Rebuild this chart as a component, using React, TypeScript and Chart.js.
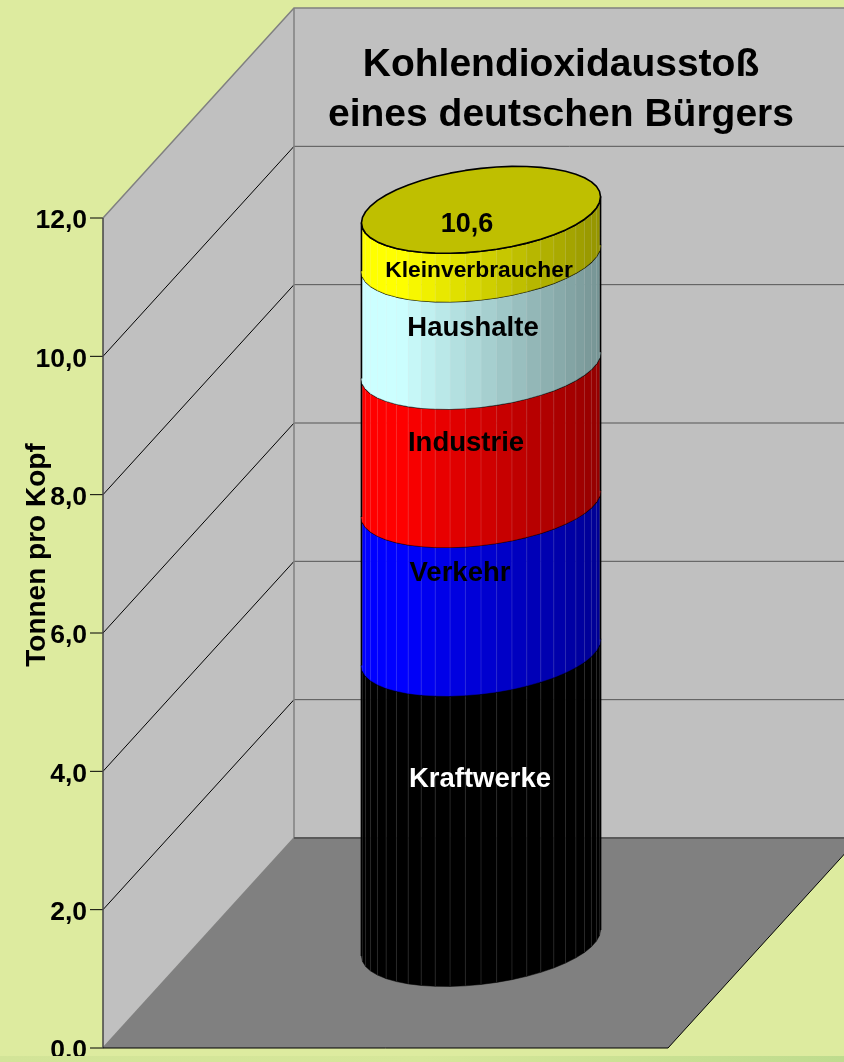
import React, { useEffect, useRef } from "react";
import { Chart, registerables } from "chart.js";

Chart.register(...registerables);

const titleLines = ["Kohlendioxidausstoß", "eines deutschen Bürgers"];
const axisTitle = "Tonnen pro Kopf";
const categories = ["Deutschland"];
const seriesNames = ["Kraftwerke", "Verkehr", "Industrie", "Haushalte", "Kleinverbraucher"];
const seriesValues = [4.2, 2.15, 2.0, 1.55, 0.7];
const totalLabel = "10,6";
const seriesColors = ["#000000", "#0000ff", "#ff0000", "#ccffff", "#ffff00"];
const labelColors = ["#ffffff", "#000000", "#000000", "#000000", "#000000"];

const FONT = '"Liberation Sans", Arial, sans-serif';
const DX = 191, DY = 210, FACETS = 24;
const SKEW_X = 36, SEMI_DEPTH = 43.5;
// label anchor (canvas px) for each hand-placed label in the original
const labelPos: [number, number, number][] = [
  [480, 779, 27.5], [460, 573, 27.5], [466, 443, 27.5], [473, 328, 27.5], [479, 271, 22.8],
];

function shade(hex: string, f: number) {
  const n = parseInt(hex.slice(1), 16);
  const r = Math.round(((n >> 16) & 255) * f), g = Math.round(((n >> 8) & 255) * f), b = Math.round((n & 255) * f);
  return `rgb(${r},${g},${b})`;
}

const scene = {
  id: "scene3d",
  beforeDatasetsDraw(chart: any) {
    const { ctx, scales, chartArea: ca } = chart;
    const y = scales.y;
    const W = chart.width, H = chart.height;
    ctx.save();
    // bottom strip
    const g = ctx.createLinearGradient(0, 0, W, 0);
    g.addColorStop(0, "#d2e498"); g.addColorStop(0.5, "#d6e79a"); g.addColorStop(0.8, "#c8e092"); g.addColorStop(1, "#bedc8e");
    ctx.fillStyle = g;
    ctx.fillRect(0, 1056, W, H - 1056);

    const y0 = y.getPixelForValue(0), yT = y.getPixelForValue(12);
    const L = ca.left, R = ca.right;
    // left wall
    ctx.fillStyle = "#c0c0c0";
    ctx.beginPath();
    ctx.moveTo(L, y0); ctx.lineTo(L + DX, y0 - DY); ctx.lineTo(L + DX, yT - DY); ctx.lineTo(L, yT); ctx.closePath();
    ctx.fill();
    // back wall
    ctx.fillRect(L + DX, yT - DY, R - L + 2, y0 - yT);
    // floor
    ctx.fillStyle = "#808080";
    ctx.beginPath();
    ctx.moveTo(L, y0); ctx.lineTo(R, y0); ctx.lineTo(R + DX, y0 - DY); ctx.lineTo(L + DX, y0 - DY); ctx.closePath();
    ctx.fill();

    // gridlines
    for (const t of y.ticks) {
      const p = y.getPixelForValue(t.value);
      if (t.value > 0 && t.value < 12) {
        ctx.strokeStyle = "#000"; ctx.lineWidth = 1;
        ctx.beginPath(); ctx.moveTo(L, p); ctx.lineTo(L + DX, p - DY); ctx.stroke();
        ctx.strokeStyle = "#555"; ctx.lineWidth = 1;
        ctx.beginPath(); ctx.moveTo(L + DX, p - DY); ctx.lineTo(R + DX, p - DY); ctx.stroke();
      }
      ctx.strokeStyle = "#000"; ctx.lineWidth = 1;
      ctx.beginPath(); ctx.moveTo(L - 13, p); ctx.lineTo(L, p); ctx.stroke();
    }
    // frame edges
    ctx.strokeStyle = "#808080"; ctx.lineWidth = 1.5;
    ctx.beginPath(); ctx.moveTo(L, yT); ctx.lineTo(L + DX, yT - DY); ctx.lineTo(R + DX, yT - DY); ctx.stroke();
    ctx.beginPath(); ctx.moveTo(L + DX, yT - DY); ctx.lineTo(L + DX, y0 - DY); ctx.stroke();
    ctx.beginPath(); ctx.moveTo(L, y0); ctx.lineTo(L + DX, y0 - DY); ctx.stroke();
    ctx.strokeStyle = "#5a5a5a"; ctx.lineWidth = 2;
    ctx.beginPath(); ctx.moveTo(L + DX, y0 - DY); ctx.lineTo(R + DX, y0 - DY); ctx.stroke();
    ctx.strokeStyle = "#444"; ctx.lineWidth = 1.5;
    ctx.beginPath(); ctx.moveTo(L, yT); ctx.lineTo(L, y0); ctx.stroke();
    ctx.strokeStyle = "#000"; ctx.lineWidth = 1;
    ctx.beginPath(); ctx.moveTo(L, y0); ctx.lineTo(R, y0); ctx.lineTo(R + DX, y0 - DY); ctx.stroke();

    // cylinder stack, built from the bar elements' own pixels
    const metas = seriesValues.map((_, i) => chart.getDatasetMeta(i).data[0]);
    metas.forEach((bar: any, i: number) => {
      const cx = bar.x + DX / 2;
      const A = bar.width / 2;
      const B = SKEW_X;
      const D = SEMI_DEPTH;
      const yBot = bar.base - DY / 2, yTop = bar.y - DY / 2;
      const phiR = Math.atan2(B, A);
      const pt = (phi: number, yc: number): [number, number] => [
        cx + A * Math.cos(phi) + B * Math.sin(phi),
        yc - D * Math.sin(phi),
      ];
      const phiAt = (k: number) => phiR + Math.PI + (k / FACETS) * Math.PI;
      // facets
      for (let k = 0; k < FACETS; k++) {
        const a = phiAt(k), b = phiAt(k + 1);
        const p1 = pt(a, yBot), p2 = pt(b, yBot), p3 = pt(b, yTop), p4 = pt(a, yTop);
        const xm = (p1[0] + p2[0]) / 2;
        const f = xm < 400 ? 1 : 1 - ((xm - 400) / 200) * 0.42;
        ctx.fillStyle = shade(seriesColors[i], f);
        ctx.strokeStyle = ctx.fillStyle;
        ctx.lineWidth = 0.5;
        ctx.beginPath();
        ctx.moveTo(...p1); ctx.lineTo(...p2); ctx.lineTo(...p3); ctx.lineTo(...p4); ctx.closePath();
        ctx.fill(); ctx.stroke();
        if (k > 0) {
          ctx.strokeStyle = "rgba(255,255,255,0.13)"; ctx.lineWidth = 1;
          ctx.beginPath(); ctx.moveTo(...p1); ctx.lineTo(...p4); ctx.stroke();
        }
      }
      // outline: upper front arc and both sides
      ctx.strokeStyle = "#000"; ctx.lineWidth = 1.6; ctx.lineJoin = "round";
      ctx.beginPath();
      const s = pt(phiAt(0), yBot);
      ctx.moveTo(s[0], s[1]);
      const tl = pt(phiAt(0), yTop);
      ctx.lineTo(tl[0], tl[1]);
      for (let k = 1; k <= FACETS; k++) { const p = pt(phiAt(k), yTop); ctx.lineTo(p[0], p[1]); }
      const e = pt(phiAt(FACETS), yBot);
      ctx.lineTo(e[0], e[1]);
      ctx.stroke();
      if (i === metas.length - 1) {
        ctx.beginPath();
        for (let k = 0; k <= 2 * FACETS; k++) { const p = pt(phiAt(k), yTop); k ? ctx.lineTo(p[0], p[1]) : ctx.moveTo(p[0], p[1]); }
        ctx.closePath();
        ctx.fillStyle = shade(seriesColors[i], 0.75);
        ctx.fill(); ctx.stroke();
      }
    });

    // labels
    ctx.textAlign = "center"; ctx.textBaseline = "middle";
    seriesNames.forEach((name, i) => {
      const [x, yy, size] = labelPos[i];
      ctx.font = `bold ${size}px ${FONT}`;
      ctx.fillStyle = labelColors[i];
      ctx.fillText(name, x, yy);
    });
    ctx.font = `bold 27px ${FONT}`;
    ctx.fillStyle = "#000";
    ctx.fillText(totalLabel, 467, 225);

    // title
    ctx.font = `bold 39px ${FONT}`;
    ctx.fillText(titleLines[0], 561, 65);
    ctx.fillText(titleLines[1], 561, 115);

    // axis title
    ctx.save();
    ctx.translate(37, 555);
    ctx.rotate(-Math.PI / 2);
    ctx.font = `bold 28px ${FONT}`;
    ctx.fillText(axisTitle, 0, 0);
    ctx.restore();
    ctx.restore();
    return false;
  },
};

export default function App() {
  const ref = useRef<HTMLCanvasElement>(null);
  useEffect(() => {
    const chart = new Chart(ref.current!, {
      type: "bar",
      data: {
        labels: categories,
        datasets: seriesNames.map((name, i) => ({
          label: name,
          data: [seriesValues[i]],
          backgroundColor: seriesColors[i],
          stack: "a",
        })),
      },
      options: {
        animation: false,
        responsive: false,
        barPercentage: 1,
        categoryPercentage: 0.4035,
        layout: { padding: { left: 0, right: 176, top: 218, bottom: 14 } },
        plugins: { legend: { display: false }, tooltip: { enabled: false }, title: { display: false } },
        scales: {
          x: { stacked: true, display: false },
          y: {
            stacked: true,
            min: 0,
            max: 12,
            border: { display: false },
            grid: { display: false },
            afterFit: (s: any) => { s.width = 103; s.paddingBottom = 0; s.paddingTop = 0; },
            ticks: {
              stepSize: 2,
              padding: 8,
              labelOffset: 3,
              color: "#000",
              font: { family: FONT, weight: "bold", size: 26.5 },
              callback: (v: any) => Number(v).toFixed(1).replace(".", ","),
            },
          },
        },
      },
      plugins: [scene],
    } as any);
    return () => chart.destroy();
  }, []);
  return (
    <div style={{ position: "fixed", left: 0, top: 0, width: 844, height: 1062, background: "#ddeb9f" }}>
      <canvas ref={ref} width={844} height={1062} style={{ display: "block" }} />
    </div>
  );
}
